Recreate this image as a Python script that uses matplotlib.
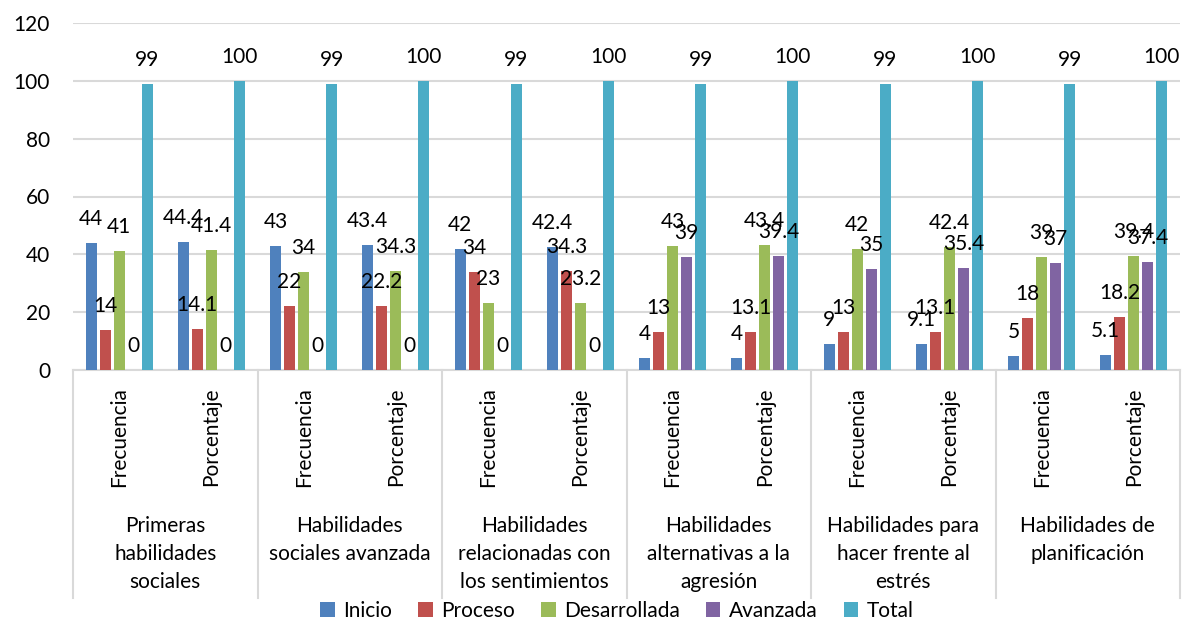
import matplotlib
matplotlib.use("Agg")
import matplotlib.pyplot as plt
import numpy as np
from matplotlib.patches import Patch

plt.rcParams['font.family'] = ['Lato', 'DejaVu Sans']

groups = ["Primeras\nhabilidades\nsociales", "Habilidades\nsociales avanzada",
          "Habilidades\nrelacionadas con\nlos sentimientos", "Habilidades\nalternativas a la\nagresión",
          "Habilidades para\nhacer frente al\nestrés", "Habilidades de\nplanificación"]
subcats = ["Frecuencia", "Porcentaje"]
series_names = ["Inicio", "Proceso", "Desarrollada", "Avanzada", "Total"]

inicio = [44, 44.4, 43, 43.4, 42, 42.4, 4, 4, 9, 9.1, 5, 5.1]
proceso = [14, 14.1, 22, 22.2, 34, 34.3, 13, 13.1, 13, 13.1, 18, 18.2]
desarrollada = [41, 41.4, 34, 34.3, 23, 23.2, 43, 43.4, 42, 42.4, 39, 39.4]
avanzada = [0, 0, 0, 0, 0, 0, 39, 39.4, 35, 35.4, 37, 37.4]
total = [99, 100, 99, 100, 99, 100, 99, 100, 99, 100, 99, 100]

colors = ["#4F81BD", "#C0504D", "#9BBB59", "#8064A2", "#4BACC6"]
all_series = [inicio, proceso, desarrollada, avanzada, total]

W, H = 1182, 623
fig = plt.figure(figsize=(W/100, H/100), dpi=100)
left, right, top, bottom = 73, 1180, 23, 370
ax = fig.add_axes([left/W, 1-bottom/H, (right-left)/W, (bottom-top)/H])

FS = 15
n = len(inicio)
x = np.arange(n)
step = 0.152
bw = 0.119
for i, (vals, c) in enumerate(zip(all_series, colors)):
    xs = x + (i-2)*step
    ax.bar(xs, vals, width=bw, color=c, zorder=3)
    for xi, v in zip(xs, vals):
        lab = f"{v:g}"
        ax.annotate(lab, (xi, v), xytext=(0, 18), textcoords='offset pixels',
                    ha='center', va='baseline', fontsize=FS, zorder=5)

ax.set_xlim(-0.5, n-0.5)
ax.set_ylim(0, 120)
ax.set_yticks(range(0, 121, 20))
ax.yaxis.grid(True, color="#D9D9D9", linewidth=1.5, zorder=0)
ax.set_axisbelow(True)
for s in ['left', 'right', 'top']:
    ax.spines[s].set_visible(False)
ax.spines['bottom'].set_color("#D9D9D9")
ax.spines['bottom'].set_linewidth(1.5)
ax.tick_params(axis='y', length=0, pad=16.5, labelsize=FS)
ax.tick_params(axis='x', length=0)
ax.set_xticks([])

ah = bottom - top
trans = ax.get_xaxis_transform()
sep_bottom = -(598 - bottom)/ah
for b in np.arange(-0.5, n, 2):
    ax.plot([b, b], [0, sep_bottom], transform=trans, color="#D9D9D9",
            linewidth=1.5, clip_on=False)

for i in range(n):
    ax.text(i, -(387-bottom)/ah, subcats[i % 2], transform=trans, rotation=90,
            ha='center', va='top', fontsize=FS)

for g, name in enumerate(groups):
    ax.text(2*g + 0.5, -(516-bottom)/ah, name, transform=trans, ha='center',
            va='top', fontsize=FS, linespacing=1.5)

handles = [Patch(facecolor=c, label=s) for c, s in zip(colors, series_names)]
fig.legend(handles=handles, loc='center', bbox_to_anchor=(617/W, 1-611/H), ncol=5,
           frameon=False, fontsize=FS, handlelength=0.7, handleheight=0.7,
           handletextpad=0.4, columnspacing=1.25, borderpad=0, borderaxespad=0)

fig.savefig("out.png", dpi=100)
